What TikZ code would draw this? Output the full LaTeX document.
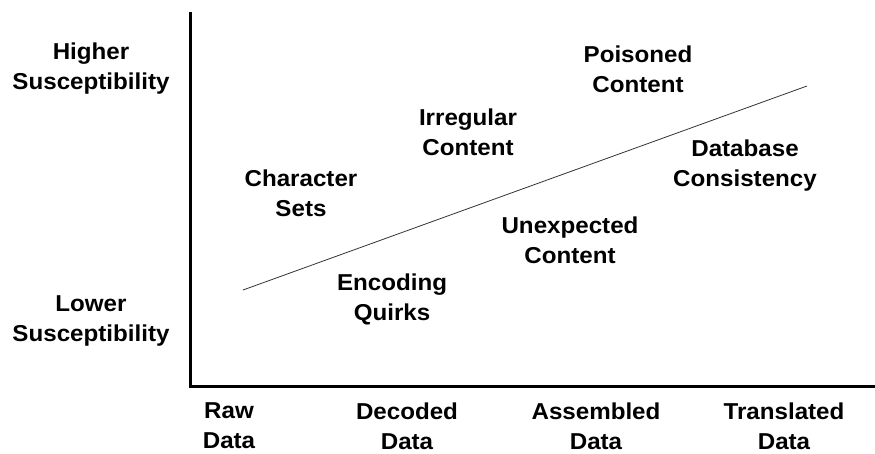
\documentclass[tikz,border=0pt]{standalone}
\usepackage{fontspec}
\setmainfont{Liberation Sans}[FakeStretch=1.05]
\usepackage{tikz}

\begin{document}
\begin{tikzpicture}[x=1pt, y=-1pt,
    lbl/.style={align=center, inner sep=0pt, font=\fontsize{23}{30}\selectfont\bfseries},
    axis/.style={line width=3pt},
    trend/.style={line width=0.8pt, black!80}]
                \useasboundingbox (0,0) rectangle (875,453);

                % axes
                \coordinate (top) at (190,12);
                \coordinate (origin) at (190,386);
                \coordinate (right) at (875,386);
                \draw[axis] (top) -- (origin) -- (right);

                % susceptibility levels
                \node[lbl] (high) at (91,69) {Higher\\Susceptibility};
                \node[lbl] (low) at (91,321) {Lower\\Susceptibility};

                % data stages
                \node[lbl] (raw) at (229,426) {Raw\\Data};
                \node[lbl] (decoded) at (407,426) {Decoded\\Data};
                \node[lbl] (assembled) at (596,426) {Assembled\\Data};
                \node[lbl] (translated) at (784,426) {Translated\\Data};

                % trend line
                \coordinate (tstart) at (243,290);
                \coordinate (tend) at (807,86);
                \draw[trend] (tstart) -- (tend);

                % issues
                \node[lbl] (charsets) at (301,193) {Character\\Sets};
                \node[lbl] (irregular) at (468,132) {Irregular\\Content};
                \node[lbl] (poisoned) at (638,69) {Poisoned\\Content};
                \node[lbl] (database) at (745,166) {Database\\Consistency};
                \node[lbl] (unexpected) at (570,240) {Unexpected\\Content};
                \node[lbl] (encoding) at (392,299) {Encoding\\Quirks};
            \end{tikzpicture}
\end{document}
